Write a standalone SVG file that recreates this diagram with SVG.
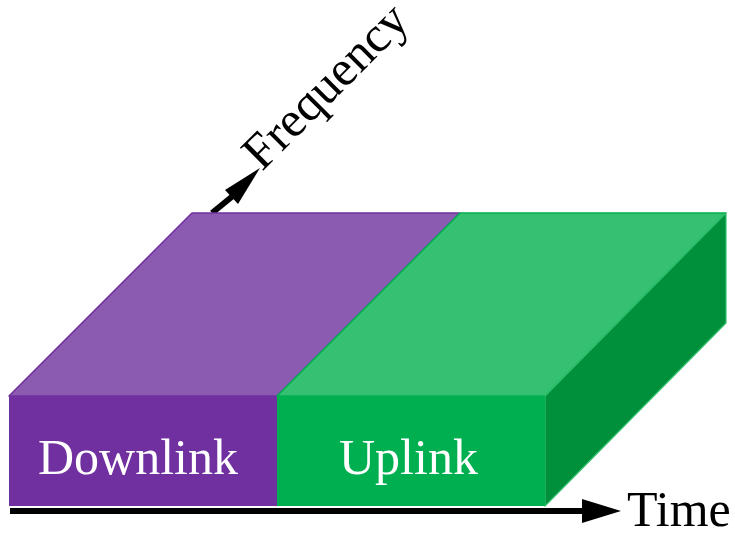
<svg xmlns="http://www.w3.org/2000/svg" width="735" height="533" viewBox="0 0 735 533">
  <defs>
    <style>
      .lbl { font-family: "Liberation Serif", "Times New Roman", serif; font-size: 50px; }
      .axis { stroke: #000; stroke-width: 6; fill: none; }
      .dl-front { fill: #7030A0; }
      .dl-top { fill: #8B5BB1; stroke: #7030A0; stroke-width: 1.5; stroke-linejoin: round; }
      .ul-front { fill: #00B050; }
      .ul-top { fill: #35C072; stroke: #00B050; stroke-width: 1.5; stroke-linejoin: round; }
      .ul-side { fill: #00903C; stroke: #33C06F; stroke-width: 1.2; stroke-linejoin: round; }
    </style>
  </defs>
  <rect width="735" height="533" fill="#fff"/>

  <!-- axes -->
  <g id="connectors">
    <line class="axis" x1="212" y1="213" x2="234" y2="195" stroke-width="7"/>
    <polygon points="260,168 225,190 238,204" fill="#000"/>
    <line class="axis" x1="10" y1="511" x2="590" y2="511"/>
    <polygon points="621,511 582,499 582,523" fill="#000"/>
  </g>

  <g id="downlink">
    <polygon class="dl-top" points="9,396 192,213 460,213 277,396"/>
    <rect class="dl-front" x="9" y="396" width="268" height="110"/>
    <text class="lbl" x="38" y="474" fill="#fff">Downlink</text>
  </g>

  <g id="uplink">
    <polygon class="ul-top" points="277,396 460,213 726,213 545,396"/>
    <polygon class="ul-side" points="545,396 726,213 726,323 545,506"/>
    <rect class="ul-front" x="277" y="396" width="268" height="110"/>
    <text class="lbl" x="339" y="474" fill="#fff">Uplink</text>
  </g>

  <g id="time-label">
    <text class="lbl" x="627" y="526" fill="#000">Time</text>
  </g>

  <g id="frequency-label">
    <text class="lbl" transform="translate(262,172) rotate(-45)" fill="#000">Frequency</text>
  </g>
</svg>
